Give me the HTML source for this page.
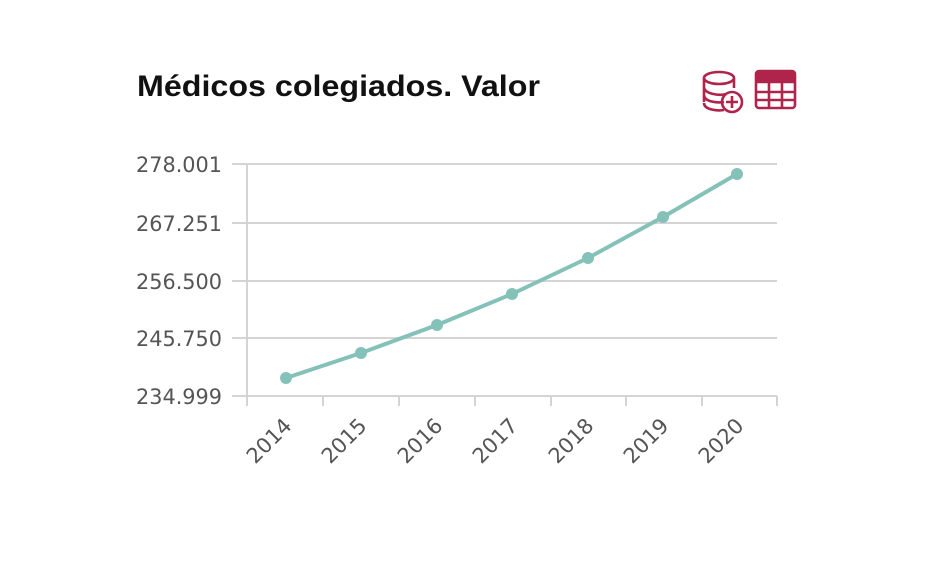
<!DOCTYPE html>
<html><head><meta charset="utf-8"><style>
body{margin:0;background:#fff;width:940px;height:558px;overflow:hidden;font-family:"Liberation Sans",sans-serif}
</style></head><body>
<svg width="940" height="558" xmlns="http://www.w3.org/2000/svg">
<text x="137" y="96" font-size="30" font-weight="bold" fill="#111" font-family="Liberation Sans" textLength="403" lengthAdjust="spacingAndGlyphs">Médicos colegiados. Valor</text>
<g stroke="#b0234a" stroke-width="2.6" fill="none">
<ellipse cx="719" cy="78" rx="15" ry="6"/>
<path d="M704 78v24M734 78v10M704 87c0 7 16 9 22 7M704 95c0 7 14 8 20 7M704 103c0 7 14 8 20 7"/>
<circle cx="732" cy="102" r="10"/>
<path d="M732 96v12M726 102h12" stroke-width="2.6"/>
<rect x="756" y="71" width="39" height="37" rx="3"/>
<path d="M756 82h39M756 92h39M756 100h39M769 82v26M782 82v26"/>
</g>
<rect x="756" y="71" width="39" height="10" fill="#b0234a"/>
<g stroke="#d4d4d4" stroke-width="2">
<line x1="232" y1="164" x2="777" y2="164"/>
<line x1="232" y1="223" x2="777" y2="223"/>
<line x1="232" y1="281" x2="777" y2="281"/>
<line x1="232" y1="338" x2="777" y2="338"/>
<line x1="232" y1="396" x2="777" y2="396"/>
<line x1="247" y1="164" x2="247" y2="406"/>
<line x1="323" y1="396" x2="323" y2="406"/>
<line x1="399" y1="396" x2="399" y2="406"/>
<line x1="475" y1="396" x2="475" y2="406"/>
<line x1="551" y1="396" x2="551" y2="406"/>
<line x1="626" y1="396" x2="626" y2="406"/>
<line x1="702" y1="396" x2="702" y2="406"/>
<line x1="777" y1="396" x2="777" y2="406"/>
</g>
<g font-size="21" fill="#555" text-anchor="end" font-family="DejaVu Sans,sans-serif">
<text x="222" y="172" textLength="86" lengthAdjust="spacingAndGlyphs">278.001</text>
<text x="222" y="231" textLength="86" lengthAdjust="spacingAndGlyphs">267.251</text>
<text x="222" y="289" textLength="86" lengthAdjust="spacingAndGlyphs">256.500</text>
<text x="222" y="346" textLength="86" lengthAdjust="spacingAndGlyphs">245.750</text>
<text x="222" y="404" textLength="86" lengthAdjust="spacingAndGlyphs">234.999</text>
</g>
<g font-size="21" fill="#555" text-anchor="end" font-family="DejaVu Sans,sans-serif">
<text transform="translate(293,427) rotate(-45)">2014</text>
<text transform="translate(368,427) rotate(-45)">2015</text>
<text transform="translate(444,427) rotate(-45)">2016</text>
<text transform="translate(519,427) rotate(-45)">2017</text>
<text transform="translate(595,427) rotate(-45)">2018</text>
<text transform="translate(670,427) rotate(-45)">2019</text>
<text transform="translate(745,427) rotate(-45)">2020</text>
</g>
<polyline points="286,378 361,353 437,325 512,294 588,258 663,217 737,174" fill="none" stroke="#84c1b8" stroke-width="4" stroke-linejoin="round"/>
<g fill="#84c1b8">
<circle cx="286" cy="378" r="6"/><circle cx="361" cy="353" r="6"/><circle cx="437" cy="325" r="6"/><circle cx="512" cy="294" r="6"/><circle cx="588" cy="258" r="6"/><circle cx="663" cy="217" r="6"/><circle cx="737" cy="174" r="6"/>
</g>
</svg>
</body></html>
